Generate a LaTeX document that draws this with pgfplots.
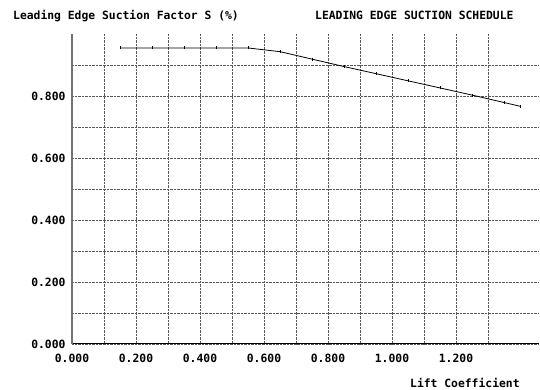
\documentclass[border=0pt]{standalone}
\usepackage{fontspec}
\setmainfont{DejaVu Sans Mono}
\usepackage{pgfplots}
\pgfplotsset{compat=1.18}
\newcommand{\chfont}{\bfseries\fontsize{11.4}{13}\selectfont}
\begin{document}
\begin{tikzpicture}
\useasboundingbox (0,0) rectangle (540bp,390bp);
\begin{axis}[
  at={(72bp,46bp)}, anchor=south west,
  scale only axis, width=467.2bp, height=310bp,
  xmin=0, xmax=1.46, ymin=0, ymax=1.0,
  axis x line=bottom, axis y line=left,
  x axis line style={-, black, line width=1bp},
  y axis line style={-, black!55, line width=1.6bp},
  xtick={0,0.2,...,1.2}, minor xtick={0.1,0.3,...,1.3},
  ytick={0,0.2,...,0.8}, minor ytick={0.1,0.3,...,0.9},
  major tick length=0pt, minor tick length=0pt,
  grid=both,
  major grid style={densely dotted, black!65, line width=0.8bp},
  minor grid style={densely dotted, black!65, line width=0.8bp},
  tick label style={font=\chfont},
  /pgf/number format/assume math mode=true,
  /pgf/number format/.cd, fixed, fixed zerofill, precision=3,
  /pgfplots/.cd,
  xticklabel style={anchor=north, yshift=-7bp},
  yticklabel style={anchor=east, xshift=-3bp},
  clip=false,
]
\addplot[black, line width=0.8bp, mark=|, mark size=1.5bp] coordinates {
  (0.15,0.955) (0.25,0.955) (0.35,0.955) (0.45,0.955) (0.55,0.955)
  (0.65,0.943) (0.75,0.919) (0.85,0.895) (0.95,0.872) (1.05,0.849)
  (1.15,0.826) (1.25,0.803) (1.35,0.779) (1.40,0.767)
};
\end{axis}
\node[anchor=base west, inner sep=0pt, font=\chfont] at (13bp,370.5bp) {Leading Edge Suction Factor S (\%)};
\node[anchor=base west, inner sep=0pt, font=\chfont] at (315bp,370.5bp) {LEADING EDGE SUCTION SCHEDULE};
\node[anchor=base west, inner sep=0pt, font=\chfont] at (410bp,3bp) {Lift Coefficient};
\end{tikzpicture}
\end{document}
